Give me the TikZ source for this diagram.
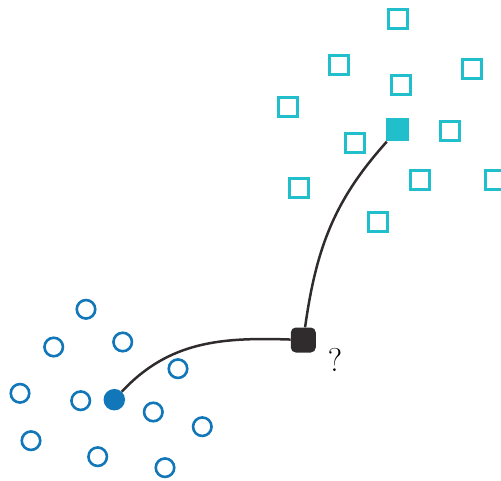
\documentclass[tikz,border=0pt]{standalone}
\usepackage{xcolor}
\usepackage{tikz}
\usetikzlibrary{arrows.meta,positioning}
\definecolor{sqcyan}{RGB}{33,191,204}
\definecolor{cblue}{RGB}{17,119,184}
\definecolor{qdark}{RGB}{48,44,46}

\begin{document}
\begin{tikzpicture}[x=1pt,y=1pt,
    opensq/.style={draw=sqcyan,line width=2.8pt,fill=white,minimum size=19pt,inner sep=0pt},
    fullsq/.style={fill=sqcyan,minimum size=23pt,inner sep=0pt},
    opencirc/.style={circle,draw=cblue,line width=2.6pt,fill=white,minimum size=18.5pt,inner sep=0pt},
    fullcirc/.style={circle,fill=cblue,minimum size=21.5pt,inner sep=0pt},
    qnode/.style={fill=qdark,rounded corners=5pt,minimum size=25pt,inner sep=0pt},
    link/.style={draw=qdark,line width=2.5pt}]
    \useasboundingbox (0,0) rectangle (501,480);
    % cyan squares
    \foreach \n/\x/\y in {s1/397.7/461,s2/339.3/415,s3/472.3/411,s4/400.7/395.3,
        s5/287.7/372.7,s6/449.7/349,s7/355/337.3,s8/299/292.3,s9/420.3/299.7,
        s10/495/300,s11/377.7/258.3}
      \node[opensq] (\n) at (\x,\y) {};
    \node[fullsq] (sq) at (397.3,350) {};
    % blue circles
    \foreach \n/\x/\y in {c1/86/170.7,c2/53.7/133,c3/122.7/138,c4/178/111.3,
        c5/20/86.7,c6/80.7/79.3,c7/153.3/68,c8/202.3/53.3,c9/31/39.3,
        c10/97.7/23.3,c11/165/12.3}
      \node[opencirc] (\n) at (\x,\y) {};
    \node[fullcirc] (ci) at (114.3,80.3) {};
    \node[qnode] (q) at (303.3,140) {};
    \node[font=\fontsize{33}{33}\selectfont,inner sep=0pt] (qm) at (335,120.5) {?};
    \draw[link] (ci) to[out=47,in=178] (q);
    \draw[link] (q) to[out=82,in=228] (sq);
  \end{tikzpicture}
\end{document}
